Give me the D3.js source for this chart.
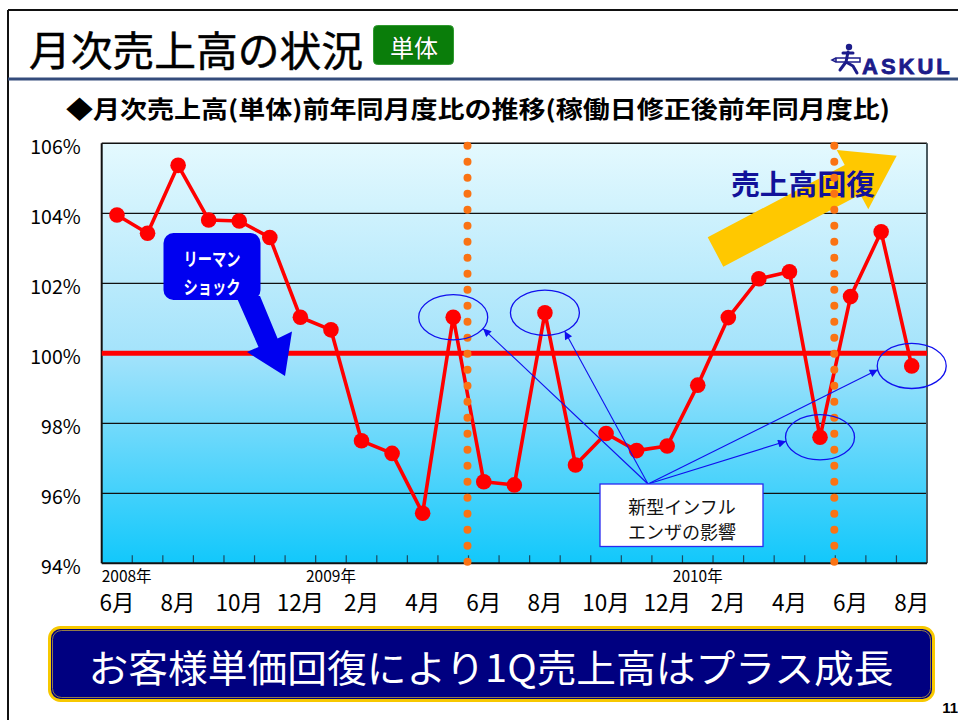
<!DOCTYPE html>
<html>
<head>
<meta charset="utf-8">
<script src="https://cdn.jsdelivr.net/npm/d3@7"></script>
<style>
  html, body { margin: 0; padding: 0; background: #fff; }
  svg { display: block; font-family: "Noto Sans CJK JP", "Noto Sans", sans-serif; }
</style>
</head>
<body>
<svg id="chart" width="958" height="720"></svg>
<script>
// Monthly sales, year-on-year ratio (working-day adjusted), %
const months = [
  "2008-06","2008-07","2008-08","2008-09","2008-10","2008-11","2008-12",
  "2009-01","2009-02","2009-03","2009-04","2009-05","2009-06","2009-07",
  "2009-08","2009-09","2009-10","2009-11","2009-12","2010-01","2010-02",
  "2010-03","2010-04","2010-05","2010-06","2010-07","2010-08"
];
const salesRatio = [
  103.95, 103.43, 105.37, 103.81, 103.78, 103.31, 101.03,
  100.67, 97.50, 97.14, 95.43, 101.03, 96.33, 96.24,
  101.16, 96.81, 97.71, 97.22, 97.35, 99.09, 101.02,
  102.13, 102.33, 97.60, 101.62, 103.47, 99.64
];
const baselineValue = 100;

const yTicks = [94, 96, 98, 100, 102, 104, 106];
const tickMonths = ["2008-06","2008-08","2008-10","2008-12","2009-02","2009-04","2009-06",
                    "2009-08","2009-10","2009-12","2010-02","2010-04","2010-06","2010-08"];
const tickLabels = ["6月","8月","10月","12月","2月","4月","6月","8月","10月","12月","2月","4月","6月","8月"];
const yearMonths = ["2008-06","2009-01","2010-01"];
const yearLabels = ["2008年","2009年","2010年"];

// first month of each new fiscal year (dotted separators)
const fiscalStarts = ["2009-06","2010-06"];
// months circled as affected by the new-type influenza
const fluMonths = ["2009-05","2009-08","2010-05","2010-08"];
const fluArrowAngles = [30, 55, 170, 170];

const svg = d3.select("#chart");

// ---------- slide frame ----------
svg.append("line").attr("x1", 8).attr("x2", 958).attr("y1", 10).attr("y2", 10)
  .attr("stroke", "#111").attr("stroke-width", 2);
svg.append("line").attr("x1", 8).attr("x2", 8).attr("y1", 10).attr("y2", 720)
  .attr("stroke", "#111").attr("stroke-width", 2);
svg.append("rect").attr("x", 8).attr("y", 77.5).attr("width", 950).attr("height", 3)
  .attr("fill", "#344c7c");

svg.append("text").attr("x", 29).attr("y", 48)
  .attr("dominant-baseline", "central")
  .attr("font-size", 41).attr("fill", "#000")
  .attr("textLength", 334).attr("lengthAdjust", "spacingAndGlyphs")
  .style("paint-order", "stroke").attr("stroke", "#000").attr("stroke-width", 0.5)
  .text("月次売上高の状況");

svg.append("rect").attr("x", 373.5).attr("y", 25.5).attr("width", 80).attr("height", 39)
  .attr("rx", 4).attr("fill", "#0a7d0a").attr("stroke", "#2f9a2f").attr("stroke-width", 1);
svg.append("text").attr("x", 414).attr("y", 46.5)
  .attr("text-anchor", "middle").attr("dominant-baseline", "central")
  .attr("font-size", 24).attr("fill", "#fff")
  .style("paint-order", "stroke").attr("stroke", "#0b4d0b").attr("stroke-width", 0.6)
  .text("単体");

// logo
const logo = svg.append("g").attr("fill", "#1c1c8a").attr("stroke", "#1c1c8a");
logo.append("circle").attr("cx", 849).attr("cy", 47).attr("r", 3.2).attr("stroke", "none");
logo.append("path").attr("fill", "none").attr("stroke-width", 3).attr("stroke-linecap", "round")
  .attr("d", "M843,53 L853,53 M848,52 L846,62 L840,70 M846,62 L853,66 L857,73");
logo.append("path").attr("fill", "none").attr("stroke-width", 1.5)
  .attr("d", "M836,58 L860,58 L860,62 L836,62 Z M836,58 L832,60 L836,62");
svg.append("text").attr("x", 862).attr("y", 74)
  .attr("font-family", "'Liberation Sans', Arial, sans-serif")
  .attr("font-weight", "bold").attr("font-size", 22).attr("letter-spacing", 3)
  .style("paint-order", "stroke").attr("stroke", "#1c1c8a").attr("stroke-width", 0.8)
  .attr("fill", "#1c1c8a").text("ASKUL");

// subtitle
svg.append("text").attr("x", 66).attr("y", 107)
  .attr("dominant-baseline", "central")
  .attr("font-size", 24).attr("font-weight", "bold").attr("fill", "#000")
  .attr("textLength", 824).attr("lengthAdjust", "spacingAndGlyphs")
  .text("◆月次売上高(単体)前年同月度比の推移(稼働日修正後前年同月度比)");

// ---------- plot ----------
const plot = { left: 101.7, right: 927, top: 143.3, bottom: 563.3 };

const x = d3.scaleBand().domain(months).range([plot.left, plot.right]);
const y = d3.scaleLinear().domain([94, 106]).range([plot.bottom, plot.top]);
const cx = m => x(m) + x.bandwidth() / 2;

const defs = svg.append("defs");
const grad = defs.append("linearGradient").attr("id", "bg")
  .attr("x1", 0).attr("x2", 0).attr("y1", 0).attr("y2", 1);
grad.append("stop").attr("offset", "0%").attr("stop-color", "#e4f9fe");
grad.append("stop").attr("offset", "50%").attr("stop-color", "#a4e3fb");
grad.append("stop").attr("offset", "100%").attr("stop-color", "#12c8fb");

const mk = defs.append("marker").attr("id", "arrowhead")
  .attr("viewBox", "0 0 10 10").attr("refX", 10).attr("refY", 5)
  .attr("markerWidth", 11).attr("markerHeight", 8).attr("markerUnits", "userSpaceOnUse")
  .attr("orient", "auto");
mk.append("path").attr("d", "M0,0 L10,5 L0,10 Z").attr("fill", "#1010ee");

svg.append("rect")
  .attr("x", plot.left).attr("y", plot.top)
  .attr("width", plot.right - plot.left).attr("height", plot.bottom - plot.top)
  .attr("fill", "url(#bg)");

// horizontal gridlines
svg.append("g").selectAll("line")
  .data(yTicks.filter(v => v !== baselineValue && v > 94 && v < 106))
  .join("line")
  .attr("x1", plot.left).attr("x2", plot.right)
  .attr("y1", d => y(d)).attr("y2", d => y(d))
  .attr("stroke", "#111").attr("stroke-width", 1.2);

// month tick marks at band boundaries (pointing up into the plot)
svg.append("g").selectAll("line")
  .data(months.slice(1))
  .join("line")
  .attr("x1", d => x(d)).attr("x2", d => x(d))
  .attr("y1", plot.bottom).attr("y2", plot.bottom - 8)
  .attr("stroke", "#1b4a60").attr("stroke-width", 1.2);

// frame of the plot area
svg.append("line").attr("x1", plot.left).attr("x2", plot.right)
  .attr("y1", plot.top).attr("y2", plot.top).attr("stroke", "#111").attr("stroke-width", 1.6);
svg.append("line").attr("x1", plot.right).attr("x2", plot.right)
  .attr("y1", plot.top).attr("y2", plot.bottom).attr("stroke", "#4a5a60").attr("stroke-width", 2);
svg.append("line").attr("x1", plot.left).attr("x2", plot.left)
  .attr("y1", plot.top).attr("y2", plot.bottom).attr("stroke", "#111").attr("stroke-width", 2);
svg.append("line").attr("x1", plot.left).attr("x2", plot.right)
  .attr("y1", plot.bottom).attr("y2", plot.bottom).attr("stroke", "#111").attr("stroke-width", 2);

// y axis labels
const yAxis = d3.axisLeft(y).tickValues(yTicks).tickFormat(d => d + "%").tickSize(0).tickPadding(21);
const yg = svg.append("g").attr("transform", `translate(${plot.left},0)`).call(yAxis);
yg.select(".domain").remove();
yg.selectAll("text").attr("font-size", 19.5).attr("fill", "#000")
  .attr("font-family", "'Noto Sans CJK JP', sans-serif").attr("dy", "0.5em");

// x axis labels
const xAxis = d3.axisBottom(x).tickValues(tickMonths)
  .tickFormat(d => tickLabels[tickMonths.indexOf(d)]).tickSize(0).tickPadding(22);
const xg = svg.append("g").attr("transform", `translate(0,${plot.bottom})`).call(xAxis);
xg.select(".domain").remove();
xg.selectAll("text").attr("font-size", 22.5).attr("fill", "#000")
  .attr("font-family", "'Noto Sans CJK JP', sans-serif")
  .attr("dy", null).attr("dominant-baseline", "central").attr("y", 37.5);

// year labels
svg.append("g").selectAll("text")
  .data(yearMonths)
  .join("text")
  .attr("x", (d, i) => i === 0 ? x(d) : cx(d))
  .attr("text-anchor", (d, i) => i === 0 ? "start" : "middle")
  .attr("y", 574.5).attr("dominant-baseline", "central")
  .attr("font-size", 15.5).attr("fill", "#000")
  .text((d, i) => yearLabels[i]);

// 100% reference line
svg.append("line")
  .attr("x1", plot.left).attr("x2", plot.right)
  .attr("y1", y(baselineValue)).attr("y2", y(baselineValue))
  .attr("stroke", "#ff0000").attr("stroke-width", 5);

// ---------- annotations below the series ----------
// Lehman shock callout
svg.append("path")
  .attr("d", "M236,296 L260,296 L277.6,338.4 L292,331.5 L285,376 L247,352 L258.5,346.9 Z")
  .attr("fill", "#0000f0");
svg.append("rect").attr("x", 163.5).attr("y", 233).attr("width", 97).attr("height", 67)
  .attr("rx", 10).attr("fill", "#0000f0");
const lehman = svg.append("g").attr("fill", "#fff").attr("font-weight", "bold").attr("font-size", 18.5);
lehman.append("text").attr("x", 212).attr("y", 258).attr("text-anchor", "middle")
  .attr("dominant-baseline", "central")
  .attr("textLength", 57).attr("lengthAdjust", "spacingAndGlyphs").text("リーマン");
lehman.append("text").attr("x", 212).attr("y", 286).attr("text-anchor", "middle")
  .attr("dominant-baseline", "central")
  .attr("textLength", 57).attr("lengthAdjust", "spacingAndGlyphs").text("ショック");

// sales-recovery arrow
svg.append("path")
  .attr("d", "M707.7,237.3 L844.7,165 L836.7,150 L896.7,155.7 L868.3,209.3 L860.3,194.4 L723.3,266.7 Z")
  .attr("fill", "#ffc800");
svg.append("text").attr("x", 803).attr("y", 183).attr("text-anchor", "middle")
  .attr("dominant-baseline", "central")
  .attr("font-size", 28).attr("font-weight", "bold").attr("fill", "#12129a")
  .attr("textLength", 144).attr("lengthAdjust", "spacingAndGlyphs")
  .text("売上高回復");

// ---------- series ----------
const line = d3.line().x((d, i) => cx(months[i])).y(d => y(d));
svg.append("path").datum(salesRatio)
  .attr("d", line).attr("fill", "none")
  .attr("stroke", "#ff0000").attr("stroke-width", 3.6).attr("stroke-linejoin", "round");

// fiscal-year separators
svg.append("g").selectAll("line")
  .data(fiscalStarts)
  .join("line")
  .attr("x1", d => x(d) - 1).attr("x2", d => x(d) - 1)
  .attr("y1", plot.top + 2.4).attr("y2", plot.bottom)
  .attr("stroke", "#fa7314").attr("stroke-width", 8)
  .attr("stroke-linecap", "round").attr("stroke-dasharray", "0 16");

svg.append("g").selectAll("circle")
  .data(salesRatio)
  .join("circle")
  .attr("cx", (d, i) => cx(months[i])).attr("cy", d => y(d))
  .attr("r", 7.8).attr("fill", "#ff0000");

// influenza impact: circled months, note box and pointer arrows
const rx = 34.5, ry = 22.6;
const fluPts = fluMonths.map(m => ({ px: cx(m), py: y(salesRatio[months.indexOf(m)]) }));
svg.append("g").selectAll("ellipse")
  .data(fluPts)
  .join("ellipse")
  .attr("cx", d => d.px).attr("cy", d => d.py).attr("rx", rx).attr("ry", ry)
  .attr("fill", "none").attr("stroke", "#1010ee").attr("stroke-width", 1.3);

const noteOrigin = { x: 648, y: 484 };
svg.append("g").selectAll("line")
  .data(fluPts)
  .join("line")
  .attr("x1", noteOrigin.x).attr("y1", noteOrigin.y)
  .attr("x2", (d, i) => d.px + rx * Math.cos(fluArrowAngles[i] * Math.PI / 180))
  .attr("y2", (d, i) => d.py + ry * Math.sin(fluArrowAngles[i] * Math.PI / 180))
  .attr("stroke", "#1010ee").attr("stroke-width", 1.1)
  .attr("marker-end", "url(#arrowhead)");

svg.append("rect").attr("x", 600).attr("y", 484).attr("width", 163).attr("height", 62.5)
  .attr("fill", "#fff").attr("stroke", "#2a2af0").attr("stroke-width", 1.3);
const note = svg.append("g").attr("font-size", 18).attr("fill", "#111").attr("text-anchor", "middle");
note.append("text").attr("x", 682).attr("y", 505.5).attr("dominant-baseline", "central").text("新型インフル");
note.append("text").attr("x", 682).attr("y", 530.5).attr("dominant-baseline", "central").text("エンザの影響");

// ---------- conclusion banner ----------
svg.append("rect").attr("x", 49.5).attr("y", 627.5).attr("width", 884).attr("height", 73)
  .attr("rx", 11).attr("fill", "#000080").attr("stroke", "#f7c800").attr("stroke-width", 3);
svg.append("rect").attr("x", 52.5).attr("y", 630.5).attr("width", 878).attr("height", 67)
  .attr("rx", 9).attr("fill", "none").attr("stroke", "#b89a3a").attr("stroke-width", 0.8);
svg.append("text").attr("x", 491).attr("y", 665).attr("text-anchor", "middle")
  .attr("dominant-baseline", "central")
  .attr("font-size", 38).attr("fill", "#fff")
  .attr("textLength", 805).attr("lengthAdjust", "spacingAndGlyphs")
  .text("お客様単価回復により1Q売上高はプラス成長");

svg.append("text").attr("x", 958).attr("y", 713).attr("text-anchor", "end")
  .attr("font-size", 15).attr("font-weight", "bold").attr("fill", "#000")
  .attr("font-family", "'Liberation Sans', Arial, sans-serif")
  .text("11");
</script>
</body>
</html>
